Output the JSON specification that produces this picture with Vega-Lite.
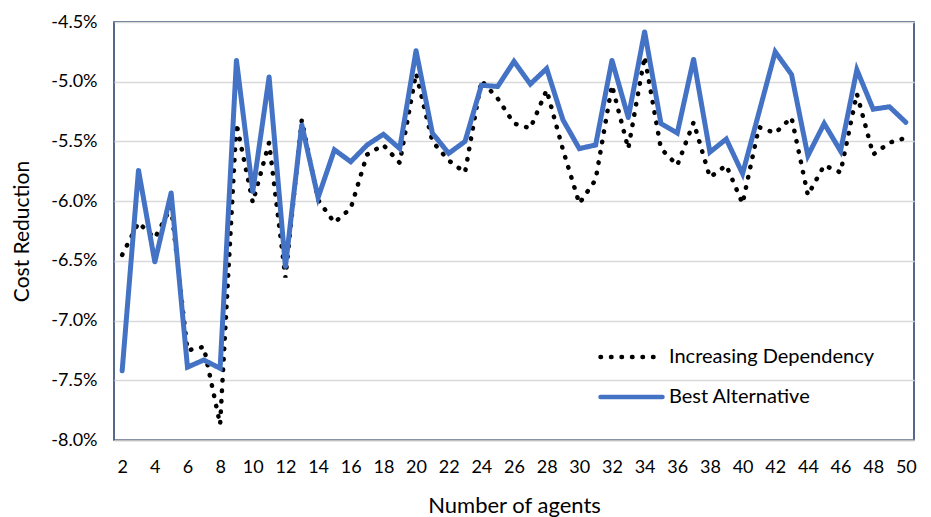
{
  "$schema": "https://vega.github.io/schema/vega-lite/v6.json",
  "width": 800,
  "height": 418,
  "autosize": {"type": "none"},
  "padding": {"left": 114, "top": 22, "right": 17, "bottom": 77},
  "background": "white",
  "config": {
    "font": "Lato",
    "view": {"stroke": "#1F3864", "strokeWidth": 1.5},
    "axis": {"labelFont": "Lato", "titleFont": "Lato", "labelColor": "#000000", "titleColor": "#000000", "titleFontWeight": "normal"}
  },
  "data": {
    "values": [
      {"agents": 2, "series": "Increasing Dependency", "pct": -6.45},
      {"agents": 3, "series": "Increasing Dependency", "pct": -6.18},
      {"agents": 4, "series": "Increasing Dependency", "pct": -6.31},
      {"agents": 5, "series": "Increasing Dependency", "pct": -6.05},
      {"agents": 6, "series": "Increasing Dependency", "pct": -7.25},
      {"agents": 7, "series": "Increasing Dependency", "pct": -7.22},
      {"agents": 8, "series": "Increasing Dependency", "pct": -7.87},
      {"agents": 9, "series": "Increasing Dependency", "pct": -5.35},
      {"agents": 10, "series": "Increasing Dependency", "pct": -6.01},
      {"agents": 11, "series": "Increasing Dependency", "pct": -5.51},
      {"agents": 12, "series": "Increasing Dependency", "pct": -6.64},
      {"agents": 13, "series": "Increasing Dependency", "pct": -5.32},
      {"agents": 14, "series": "Increasing Dependency", "pct": -5.99},
      {"agents": 15, "series": "Increasing Dependency", "pct": -6.18},
      {"agents": 16, "series": "Increasing Dependency", "pct": -6.06},
      {"agents": 17, "series": "Increasing Dependency", "pct": -5.61},
      {"agents": 18, "series": "Increasing Dependency", "pct": -5.53},
      {"agents": 19, "series": "Increasing Dependency", "pct": -5.68},
      {"agents": 20, "series": "Increasing Dependency", "pct": -4.93},
      {"agents": 21, "series": "Increasing Dependency", "pct": -5.5},
      {"agents": 22, "series": "Increasing Dependency", "pct": -5.66},
      {"agents": 23, "series": "Increasing Dependency", "pct": -5.76},
      {"agents": 24, "series": "Increasing Dependency", "pct": -4.99},
      {"agents": 25, "series": "Increasing Dependency", "pct": -5.14},
      {"agents": 26, "series": "Increasing Dependency", "pct": -5.35},
      {"agents": 27, "series": "Increasing Dependency", "pct": -5.39},
      {"agents": 28, "series": "Increasing Dependency", "pct": -5.07},
      {"agents": 29, "series": "Increasing Dependency", "pct": -5.57},
      {"agents": 30, "series": "Increasing Dependency", "pct": -6.02},
      {"agents": 31, "series": "Increasing Dependency", "pct": -5.82},
      {"agents": 32, "series": "Increasing Dependency", "pct": -5.03},
      {"agents": 33, "series": "Increasing Dependency", "pct": -5.56},
      {"agents": 34, "series": "Increasing Dependency", "pct": -4.79},
      {"agents": 35, "series": "Increasing Dependency", "pct": -5.56},
      {"agents": 36, "series": "Increasing Dependency", "pct": -5.7},
      {"agents": 37, "series": "Increasing Dependency", "pct": -5.34},
      {"agents": 38, "series": "Increasing Dependency", "pct": -5.8},
      {"agents": 39, "series": "Increasing Dependency", "pct": -5.7},
      {"agents": 40, "series": "Increasing Dependency", "pct": -6.02},
      {"agents": 41, "series": "Increasing Dependency", "pct": -5.38},
      {"agents": 42, "series": "Increasing Dependency", "pct": -5.43},
      {"agents": 43, "series": "Increasing Dependency", "pct": -5.3},
      {"agents": 44, "series": "Increasing Dependency", "pct": -5.95},
      {"agents": 45, "series": "Increasing Dependency", "pct": -5.7},
      {"agents": 46, "series": "Increasing Dependency", "pct": -5.76},
      {"agents": 47, "series": "Increasing Dependency", "pct": -5.1},
      {"agents": 48, "series": "Increasing Dependency", "pct": -5.61},
      {"agents": 49, "series": "Increasing Dependency", "pct": -5.51},
      {"agents": 50, "series": "Increasing Dependency", "pct": -5.47},
      {"agents": 2, "series": "Best Alternative", "pct": -7.42},
      {"agents": 3, "series": "Best Alternative", "pct": -5.74},
      {"agents": 4, "series": "Best Alternative", "pct": -6.51},
      {"agents": 5, "series": "Best Alternative", "pct": -5.93},
      {"agents": 6, "series": "Best Alternative", "pct": -7.39},
      {"agents": 7, "series": "Best Alternative", "pct": -7.33},
      {"agents": 8, "series": "Best Alternative", "pct": -7.4},
      {"agents": 9, "series": "Best Alternative", "pct": -4.82},
      {"agents": 10, "series": "Best Alternative", "pct": -5.92},
      {"agents": 11, "series": "Best Alternative", "pct": -4.96},
      {"agents": 12, "series": "Best Alternative", "pct": -6.55},
      {"agents": 13, "series": "Best Alternative", "pct": -5.36},
      {"agents": 14, "series": "Best Alternative", "pct": -5.97},
      {"agents": 15, "series": "Best Alternative", "pct": -5.57},
      {"agents": 16, "series": "Best Alternative", "pct": -5.67},
      {"agents": 17, "series": "Best Alternative", "pct": -5.53},
      {"agents": 18, "series": "Best Alternative", "pct": -5.44},
      {"agents": 19, "series": "Best Alternative", "pct": -5.56},
      {"agents": 20, "series": "Best Alternative", "pct": -4.74},
      {"agents": 21, "series": "Best Alternative", "pct": -5.43},
      {"agents": 22, "series": "Best Alternative", "pct": -5.6},
      {"agents": 23, "series": "Best Alternative", "pct": -5.5},
      {"agents": 24, "series": "Best Alternative", "pct": -5.03},
      {"agents": 25, "series": "Best Alternative", "pct": -5.04},
      {"agents": 26, "series": "Best Alternative", "pct": -4.83},
      {"agents": 27, "series": "Best Alternative", "pct": -5.02},
      {"agents": 28, "series": "Best Alternative", "pct": -4.89},
      {"agents": 29, "series": "Best Alternative", "pct": -5.32},
      {"agents": 30, "series": "Best Alternative", "pct": -5.56},
      {"agents": 31, "series": "Best Alternative", "pct": -5.53},
      {"agents": 32, "series": "Best Alternative", "pct": -4.82},
      {"agents": 33, "series": "Best Alternative", "pct": -5.3},
      {"agents": 34, "series": "Best Alternative", "pct": -4.58},
      {"agents": 35, "series": "Best Alternative", "pct": -5.35},
      {"agents": 36, "series": "Best Alternative", "pct": -5.43},
      {"agents": 37, "series": "Best Alternative", "pct": -4.81},
      {"agents": 38, "series": "Best Alternative", "pct": -5.59},
      {"agents": 39, "series": "Best Alternative", "pct": -5.48},
      {"agents": 40, "series": "Best Alternative", "pct": -5.77},
      {"agents": 41, "series": "Best Alternative", "pct": -5.26},
      {"agents": 42, "series": "Best Alternative", "pct": -4.75},
      {"agents": 43, "series": "Best Alternative", "pct": -4.94},
      {"agents": 44, "series": "Best Alternative", "pct": -5.62},
      {"agents": 45, "series": "Best Alternative", "pct": -5.35},
      {"agents": 46, "series": "Best Alternative", "pct": -5.58},
      {"agents": 47, "series": "Best Alternative", "pct": -4.9},
      {"agents": 48, "series": "Best Alternative", "pct": -5.23},
      {"agents": 49, "series": "Best Alternative", "pct": -5.21},
      {"agents": 50, "series": "Best Alternative", "pct": -5.34}
    ]
  },
  "encoding": {
    "x": {
      "field": "agents", "type": "quantitative",
      "scale": {"domain": [1.5, 50.5], "nice": false, "zero": false},
      "axis": {
        "title": "Number of agents", "titleFontSize": 22, "titlePadding": 19,
        "values": [2,4,6,8,10,12,14,16,18,20,22,24,26,28,30,32,34,36,38,40,42,44,46,48,50],
        "labelFontSize": 18, "labelPadding": 18, "ticks": false, "grid": false,
        "domainColor": "#BFBFBF", "domainWidth": 1.5
      }
    },
    "y": {
      "field": "pct", "type": "quantitative",
      "scale": {"domain": [-8.0, -4.5], "nice": false, "zero": false},
      "axis": {
        "title": "Cost Reduction", "titleFontSize": 21, "titlePadding": 18,
        "values": [-8.0, -7.5, -7.0, -6.5, -6.0, -5.5, -5.0, -4.5],
        "labelExpr": "'-' + format(-datum.value, '.1f') + '%'",
        "labelFontSize": 18, "labelPadding": 17, "ticks": false, "domain": false,
        "grid": true, "gridColor": "#D9D9D9", "gridWidth": 1.5
      }
    },
    "color": {
      "field": "series", "type": "nominal",
      "scale": {"domain": ["Increasing Dependency", "Best Alternative"], "range": ["#000000", "#4472C4"]},
      "legend": {
        "title": null, "orient": "none", "legendX": 484, "legendY": 315,
        "symbolType": "stroke", "symbolSize": 3844, "symbolStrokeWidth": 4.5,
        "labelFontSize": 20, "labelFont": "Lato", "labelColor": "#000000", "labelLimit": 400,
        "rowPadding": 0, "clipHeight": 40, "labelOffset": 4,
        "encode": {"symbols": {"update": {"strokeCap": {"value": "round"}}}}
      }
    },
    "strokeDash": {
      "field": "series", "type": "nominal",
      "scale": {"domain": ["Increasing Dependency", "Best Alternative"], "range": [[0.5, 10], [1, 0]]},
      "legend": {
        "title": null, "orient": "none", "legendX": 484, "legendY": 315,
        "symbolType": "stroke", "symbolSize": 3844, "symbolStrokeWidth": 4.5,
        "labelFontSize": 20, "labelFont": "Lato", "labelColor": "#000000", "labelLimit": 400,
        "rowPadding": 0, "clipHeight": 40, "labelOffset": 4,
        "encode": {"symbols": {"update": {"strokeCap": {"value": "round"}}}}
      }
    }
  },
  "layer": [
    {
      "transform": [{"filter": "datum.series === 'Increasing Dependency'"}],
      "mark": {"type": "line", "strokeWidth": 4.5, "strokeCap": "round"}
    },
    {
      "transform": [{"filter": "datum.series === 'Best Alternative'"}],
      "mark": {"type": "line", "strokeWidth": 5, "strokeCap": "round", "strokeJoin": "miter"}
    }
  ]
}
